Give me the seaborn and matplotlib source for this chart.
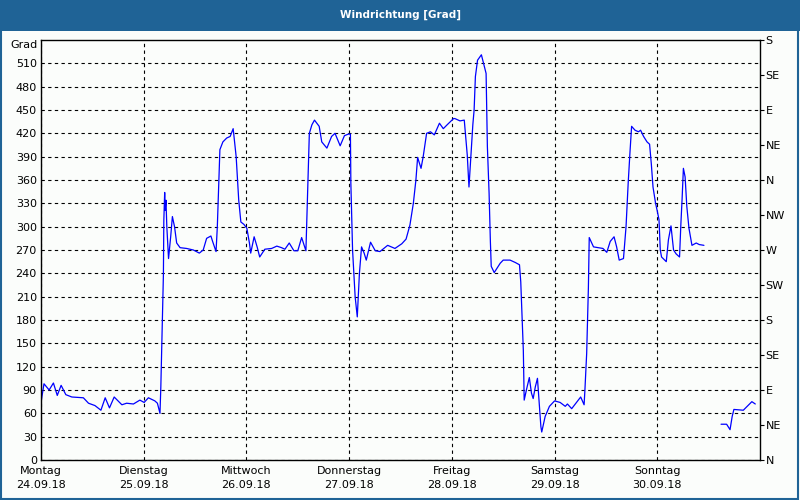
import numpy as np
import pandas as pd
import matplotlib
matplotlib.use("Agg")
import matplotlib.pyplot as plt
from matplotlib.patches import Rectangle
import seaborn as sns

# --- Data (hours since Mon 24.09.18 00:00, wind direction in degrees) ---
hours = [
    0.0, 0.7, 1.9, 2.9, 3.8, 4.7, 5.8, 7.2, 9.9, 11.1, 12.6, 14.0, 15.0, 16.0, 17.1,
    18.9, 20.0, 21.6, 23.1, 24.1, 25.1, 26.6, 27.2, 27.8, 28.0, 28.3, 28.6, 28.7, 28.9,
    29.0, 29.2, 29.4, 29.8, 30.3, 30.7, 31.2, 31.7, 32.5, 34.0, 35.6, 37.0, 37.9, 38.7,
    39.7, 40.1, 40.9, 41.2, 41.8, 42.5, 43.4, 44.2, 44.9, 45.6, 46.2, 46.7, 47.4, 48.1,
    48.7, 49.0, 49.8, 50.5, 51.1, 52.3, 53.9, 55.1, 56.2, 57.0, 58.0, 59.1, 60.0, 60.9,
    61.9, 62.2, 62.7, 63.3, 63.9, 65.0, 65.6, 66.8, 67.9, 68.7, 69.9, 70.9, 71.8, 72.3,
    72.4, 72.8, 73.4, 73.9, 74.4, 74.9, 75.5, 76.0, 77.0, 78.1, 79.2, 81.0, 82.7, 84.3,
    85.3, 86.2, 87.0, 87.6, 88.0, 88.8, 89.3, 90.1, 91.0, 91.9, 93.1, 94.0, 94.9, 96.4,
    96.7, 97.9, 98.9, 99.3, 99.6, 100.0, 100.4, 100.9, 101.2, 101.5, 102.0, 102.9, 103.4,
    104.0, 104.3, 104.7, 105.0, 105.2, 105.9, 107.3, 108.0, 109.6, 110.8, 111.8, 112.1,
    112.4, 112.7, 112.9, 113.5, 114.1, 114.6, 115.0, 115.5, 116.0, 116.4, 116.8, 117.0,
    117.8, 118.8, 120.0, 121.3, 122.5, 123.0, 124.0, 126.1, 126.9, 127.1, 127.5, 127.9,
    128.1, 129.1, 130.2, 131.3, 132.2, 133.0, 133.9, 134.5, 135.1, 136.1, 136.7, 137.2,
    137.6, 138.0, 138.8, 139.6, 140.1, 140.8, 141.6, 142.2, 142.6, 143.0, 143.6, 144.0,
    144.4, 144.7, 145.0, 146.1, 146.6, 147.2, 147.8, 148.4, 149.2, 149.5, 149.8, 150.1,
    150.5, 150.9, 151.4, 152.1, 153.1, 153.8, 154.9,
    158.9, 160.2, 161.0, 161.5, 161.9, 164.1, 166.1, 166.9,
]
grad = [
    74, 98, 90, 99, 83, 96, 84, 81, 80, 73, 70, 64, 80, 67, 81,
    71, 73, 72, 77, 74, 80, 76, 73, 60, 94, 167, 238, 308, 344,
    321, 334, 300, 259, 287, 313, 300, 279, 273, 272, 270, 266, 270, 285,
    288, 281, 268, 300, 399, 409, 414, 416, 426, 390, 334, 306, 303, 298,
    279, 266, 287, 274, 261, 271, 272, 275, 273, 271, 279, 269, 269, 286,
    269, 326, 420, 431, 437, 429, 409, 401, 416, 420, 404, 417, 419, 419,
    356, 270, 210, 184, 240, 274, 266, 257, 280, 269, 268, 276, 272, 278,
    284, 302, 330, 360, 389, 375, 390, 420, 422, 418, 433, 426, 431, 439,
    439, 436, 437, 411, 392, 351, 386, 431, 450, 493, 514, 521, 510,
    497, 403, 343, 281, 249, 241, 253, 257, 257, 254, 251, 229,
    184, 141, 77, 92, 106, 86, 79, 94, 105, 73, 43, 36,
    56, 69, 76, 74, 69, 72, 66, 81, 71, 91, 137, 221,
    286, 274, 273, 272, 267, 281, 287, 274, 257, 259, 300, 356,
    394, 429, 424, 422, 424, 416, 409, 406, 381, 351, 330, 320,
    309, 270, 261, 255, 283, 301, 270, 265, 261, 302, 336, 375,
    364, 326, 298, 276, 279, 277, 276,
    46, 46, 39, 56, 65, 64, 75, 72,
]
gap_after = 156  # no data between ~155h and ~159h

day_names = ["Montag", "Dienstag", "Mittwoch", "Donnerstag", "Freitag", "Samstag", "Sonntag"]
day_dates = ["24.09.18", "25.09.18", "26.09.18", "27.09.18", "28.09.18", "29.09.18", "30.09.18"]
left_ticks = list(range(0, 540, 30))
compass_ticks = list(range(0, 541, 45))
compass_labels = ["N", "NE", "E", "SE", "S", "SW", "W", "NW", "N", "NE", "E", "SE", "S"]

df = pd.DataFrame({"hour": hours, "grad": grad})
df["segment"] = np.where(df["hour"] > gap_after, 1, 0)

# --- Plot ---
sns.set_style("white")
plt.rcParams["font.family"] = ["DejaVu Sans"]
plt.rcParams["text.color"] = "black"
plt.rcParams["xtick.color"] = "black"
plt.rcParams["ytick.color"] = "black"
plt.rcParams["xtick.labelcolor"] = "black"
plt.rcParams["ytick.labelcolor"] = "black"
bg = "#fbfdfb"
title_blue = "#1f6396"

fig = plt.figure(figsize=(8, 5), dpi=100, facecolor=bg)
ax = fig.add_axes([41 / 800, 40 / 500, 719 / 800, 420 / 500])
ax.set_facecolor(bg)

sns.lineplot(data=df, x="hour", y="grad", units="segment", estimator=None,
             color="#0000ff", linewidth=0.9, ax=ax)

ax.set_xlim(0, 168)
ax.set_ylim(0, 540)
ax.set_xticks(range(0, 168, 24))
ax.set_xticklabels([f"{n}\n{d}" for n, d in zip(day_names, day_dates)], fontsize=8, linespacing=1.6)
ax.set_yticks(left_ticks)
ax.set_yticklabels([str(t) for t in left_ticks], fontsize=8)
ax.tick_params(axis="both", length=0, pad=3, labelcolor="black")
ax.tick_params(axis="x", pad=4)
ax.set_xlabel("")
ax.set_ylabel("")
ax.grid(True, color="black", linestyle=(0, (3, 3)), linewidth=0.8)
for s in ax.spines.values():
    s.set_color("black")
    s.set_linewidth(1.0)
ax.text(-0.004, 540, "Grad", transform=ax.get_yaxis_transform(), ha="right", va="top",
        fontsize=8, color="black")

ax2 = ax.twinx()
ax2.set_ylim(0, 540)
ax2.set_yticks(compass_ticks)
ax2.set_yticklabels(compass_labels, fontsize=8)
ax2.tick_params(axis="y", length=3, width=0.8, color="black", labelcolor="black", pad=1)
ax2.grid(False)
for s in ax2.spines.values():
    s.set_visible(False)

# title bar and frame
fig.patches.append(Rectangle((0, 1 - 31 / 500), 1, 31 / 500, transform=fig.transFigure,
                             facecolor=title_blue, edgecolor="none", zorder=0))
fig.patches.append(Rectangle((0.001, 0.002), 0.997, 0.996, transform=fig.transFigure,
                             facecolor="none", edgecolor=title_blue, linewidth=1.5, zorder=5))
fig.text(0.5, 1 - 15 / 500, "Windrichtung [Grad]", color="white", fontsize=7.5,
         fontweight="bold", ha="center", va="center")

fig.savefig("out.png", dpi=100, facecolor=bg)
